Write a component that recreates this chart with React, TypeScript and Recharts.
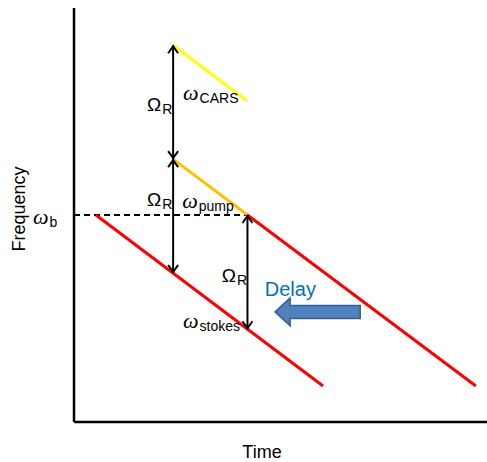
import { ComposedChart, Line, Scatter, XAxis, YAxis } from 'recharts'

// ── Data (time 0–100, frequency 0–100, arbitrary units) ───────────────────────

const carsLine = [{ t: 24, f: 91 }, { t: 42, f: 77.5 }]
const pumpLine = [{ t: 24, f: 63.5 }, { t: 42, f: 50 }]
const pumpDelayed = [{ t: 42, f: 50 }, { t: 97.3, f: 8.7 }]
const stokesLine = [{ t: 5.3, f: 50 }, { t: 60.3, f: 8.7 }]
const bLevel = [{ t: 0, f: 50 }, { t: 42, f: 50 }]

const arrowCars = [{ t: 24, f: 91, head: 'up' }, { t: 24, f: 63.5, head: 'down' }]
const arrowStokes = [{ t: 24, f: 63.5, head: 'up' }, { t: 24, f: 36, head: 'down' }]
const arrowDelay = [{ t: 42, f: 50, head: 'up' }, { t: 42, f: 22.4, head: 'down' }]
const delayArrow = [{ t: 69.3, f: 26.6 }, { t: 48.7, f: 26.6 }]

const yTicks = [50]

const labels = [
  { t: 17.7, f: 75.1, main: 'Ω', sub: 'R', kind: 'sans' },
  { t: 26.4, f: 77.8, main: 'ω', sub: 'CARS', kind: 'math' },
  { t: 17.7, f: 52.2, main: 'Ω', sub: 'R', kind: 'sans' },
  { t: 26.2, f: 51.7, main: 'ω', sub: 'pump', kind: 'math' },
  { t: 35.8, f: 33.8, main: 'Ω', sub: 'R', kind: 'sans' },
  { t: 26.4, f: 22.7, main: 'ω', sub: 'stokes', kind: 'math' },
  { t: 46.2, f: 30.4, main: 'Delay', sub: '', kind: 'note' },
]

// ── Styles ────────────────────────────────────────────────────────────────────

const SANS = '"Liberation Sans", Arial, sans-serif'
const SERIF = '"Liberation Serif", "DejaVu Serif", serif'

// ── Marks ─────────────────────────────────────────────────────────────────────

function ArrowHead(props: any) {
  const { cx, cy, payload, index } = props
  if (!payload || !payload.head) return <g key={`h-${index}`} />
  const d = payload.head === 'up' ? 1 : -1
  return (
    <polyline
      key={`h-${index}`}
      points={`${cx - 5},${cy + d * 8} ${cx},${cy + d * 1} ${cx + 5},${cy + d * 8}`}
      fill="none"
      stroke="#000"
      strokeWidth={2}
    />
  )
}

function BlockArrow(props: any) {
  const { cx, cy, index, points } = props
  if (index !== 1) return <g key={`b-${index}`} />
  const tail = points && points[0] ? points[0].x : cx + 85
  const head = 15
  const shaft = 6.5
  const wing = 14
  const pts = [
    [cx, cy],
    [cx + head, cy - wing],
    [cx + head, cy - shaft],
    [tail, cy - shaft],
    [tail, cy + shaft],
    [cx + head, cy + shaft],
    [cx + head, cy + wing],
  ]
    .map((p) => p.join(','))
    .join(' ')
  return (
    <polygon key={`b-${index}`} points={pts} fill="#4f81bd" stroke="#385d8a" strokeWidth={1.5} />
  )
}

function TextMark(props: any) {
  const { cx, cy, payload } = props
  if (payload.kind === 'note') {
    return (
      <text x={cx} y={cy} fontFamily={SANS} fontSize={20} fill="#0070c0">
        {payload.main}
      </text>
    )
  }
  const math = payload.kind === 'math'
  return (
    <text x={cx} y={cy} fill="#000">
      <tspan
        fontFamily={math ? SERIF : SANS}
        fontStyle={math ? 'italic' : 'normal'}
        fontSize={math ? 22 : 19}
      >
        {payload.main}
      </tspan>
      <tspan fontFamily={SANS} fontSize={14} dy={3} dx={1}>
        {payload.sub}
      </tspan>
    </text>
  )
}

function BTick(props: any) {
  const { x, y } = props
  return (
    <text x={x - 41} y={y + 9} fill="#000">
      <tspan fontFamily={SERIF} fontStyle="italic" fontSize={22}>ω</tspan>
      <tspan fontFamily={SANS} fontSize={14} dy={3} dx={1}>b</tspan>
    </text>
  )
}

// ── Chart ─────────────────────────────────────────────────────────────────────

export default function App() {
  return (
    <div style={{ position: 'absolute', left: 0, top: 0, background: '#fff' }}>
      <ComposedChart width={487} height={462} margin={{ top: 8, right: 0, bottom: 0, left: 0 }}>
        <XAxis
          type="number"
          dataKey="t"
          domain={[0, 100]}
          height={40}
          tick={false}
          tickLine={false}
          axisLine={{ stroke: '#000', strokeWidth: 2.5 }}
          label={(p: any) => (
            <text
              x={p.viewBox.x + 188}
              y={p.viewBox.y + 36}
              textAnchor="middle"
              fontFamily={SANS}
              fontSize={18}
              fill="#000"
            >
              Time
            </text>
          )}
        />
        <YAxis
          type="number"
          dataKey="f"
          domain={[0, 100]}
          width={74}
          ticks={yTicks}
          tick={<BTick />}
          tickSize={0}
          tickMargin={0}
          tickLine={false}
          axisLine={{ stroke: '#000', strokeWidth: 2.5 }}
          label={(p: any) => (
            <text
              transform={`translate(${p.viewBox.x + 25},${p.viewBox.y + p.viewBox.height / 2 - 6}) rotate(-90)`}
              textAnchor="middle"
              fontFamily={SANS}
              fontSize={18}
              fill="#000"
            >
              Frequency
            </text>
          )}
        />

        <Line data={bLevel} dataKey="f" stroke="#000" strokeWidth={2} strokeDasharray="6 4" dot={false} isAnimationActive={false} />
        <Line data={carsLine} dataKey="f" stroke="#ffff00" strokeWidth={3} dot={false} isAnimationActive={false} />
        <Line data={pumpLine} dataKey="f" stroke="#ffc000" strokeWidth={3} dot={false} isAnimationActive={false} />
        <Line data={pumpDelayed} dataKey="f" stroke="#ff0000" strokeWidth={3} dot={false} isAnimationActive={false} />
        <Line data={stokesLine} dataKey="f" stroke="#ff0000" strokeWidth={3} dot={false} isAnimationActive={false} />

        <Line data={arrowCars} dataKey="f" stroke="#000" strokeWidth={2} dot={ArrowHead} isAnimationActive={false} />
        <Line data={arrowStokes} dataKey="f" stroke="#000" strokeWidth={2} dot={ArrowHead} isAnimationActive={false} />
        <Line data={arrowDelay} dataKey="f" stroke="#000" strokeWidth={2} dot={ArrowHead} isAnimationActive={false} />

        <Line data={delayArrow} dataKey="f" stroke="none" dot={BlockArrow} isAnimationActive={false} />

        <Scatter data={labels} dataKey="f" shape={TextMark} isAnimationActive={false} />
      </ComposedChart>
    </div>
  )
}
